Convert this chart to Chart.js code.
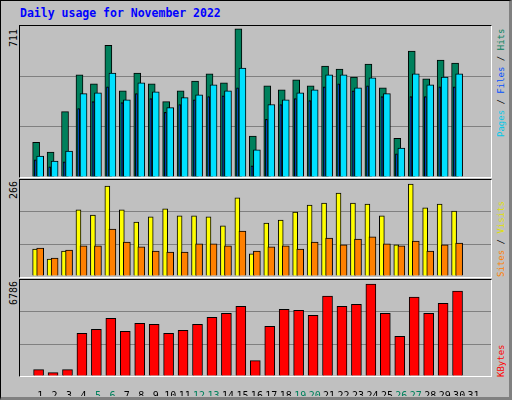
<!DOCTYPE html>
<html>
<head>
<meta charset="utf-8">
<script src="https://cdn.jsdelivr.net/npm/chart.js@4"></script>
<style>
  html, body { margin: 0; padding: 0; }
  body { width: 512px; height: 400px; position: relative; overflow: hidden; background: #fff; }
  #frame { position: absolute; left: 0; top: 0; width: 508px; height: 396px; background: #c0c0c0;
    border: 1px solid #000; border-right: 3px solid #808080; border-bottom: 3px solid #808080; box-sizing: content-box; }
  .panel { position: absolute; left: 19px; width: 471px; border-top: 1px solid #000; border-left: 1px solid #000;
    border-right: 1px solid #fff; border-bottom: 1px solid #fff; }
  canvas { position: absolute; }
  .t { position: absolute; font-family: "DejaVu Sans Mono", monospace; font-size: 9px; white-space: nowrap; line-height: 11px; }
  .rot { transform-origin: 0 0; transform: rotate(-90deg); }
</style>
</head>
<body>
<div id="frame"></div>
<div class="t" style="left:20px;top:8px;color:#0000ff;font-weight:bold;font-size:11.5px;">Daily usage for November 2022</div>
<div class="panel" style="top:25px;height:151px;"></div>
<div class="panel" style="top:179px;height:97px;"></div>
<div class="panel" style="top:279px;height:96px;"></div>
<canvas id="c1" width="471" height="151" style="left:20px;top:26px"></canvas>
<canvas id="c2" width="471" height="96" style="left:20px;top:180px"></canvas>
<canvas id="c3" width="471" height="116" style="left:20px;top:280px"></canvas>
<div class="t rot" style="left:8px;top:47px;color:#000;font-size:10px">711</div>
<div class="t rot" style="left:8px;top:199px;color:#000;font-size:10px">266</div>
<div class="t rot" style="left:8px;top:305px;color:#000;font-size:10px">6786</div>
<div class="t rot" style="left:496px;top:137px"><span style="color:#00c8e8">Pages</span> / <span style="color:#0050ff">Files</span> / <span style="color:#00805c">Hits</span></div>
<div class="t rot" style="left:496px;top:277px"><span style="color:#ff8000">Sites</span> / <span style="color:#e0e000">Visits</span></div>
<div class="t rot" style="left:496px;top:377px;color:#ff0000">KBytes</div>
<script>
const days = Array.from({ length: 31 }, (_, i) => i + 1);
const weekend = [5, 6, 12, 13, 19, 20, 26, 27];
const hits = [167,120,314,490,447,632,414,499,447,362,414,461,495,452,711,196,438,419,466,438,532,518,480,542,428,186,604,471,561,547];
const pages = [101,77,125,400,404,499,371,452,409,333,381,395,442,414,523,130,348,371,404,419,490,490,428,476,400,139,495,442,480,495];
const files = [82,49,73,329,362,433,357,400,376,310,348,371,386,390,428,54,277,348,376,367,433,447,414,438,386,111,386,386,433,433];
const visits = [78,49,72,191,176,260,191,156,171,194,174,174,171,145,226,64,153,162,185,205,211,240,211,208,174,90,266,197,208,188];
const sites = [81,52,75,87,87,136,98,84,72,69,69,93,93,87,130,72,84,87,78,98,110,90,107,113,93,87,101,72,90,95];
const kbytes = [471,248,471,3146,3443,4260,3294,3889,3815,3146,3369,3815,4335,4632,5152,1139,3666,4929,4855,4483,5895,5152,5301,6786,4632,2923,5821,4632,5375,6267];

const pts = (arr, off) => arr.map((v, i) => ({ x: days[i] + off, y: v }));
// first dataset in the list ends up drawn on top
const bar = (data, color, w) => ({ data, backgroundColor: color, borderColor: "#000", borderWidth: 1, barThickness: w, grouped: false, borderSkipped: "bottom" });

function makeChart(id, datasets, ymax, showX) {
  new Chart(document.getElementById(id), {
    type: "bar",
    data: { datasets },
    options: {
      responsive: false, animation: false, devicePixelRatio: 1,
      layout: { padding: 0 },
      plugins: { legend: { display: false }, tooltip: { enabled: false } },
      scales: {
        x: {
          type: "linear", min: 0.129, max: 31.68,
          grid: { display: false }, border: { display: false },
          afterFit: s => { s.height = showX ? 20 : 0; },
          afterBuildTicks: s => { s.ticks = days.map(d => ({ value: d })); },
          ticks: {
            display: showX, autoSkip: false, maxRotation: 0, padding: 6,
            font: { family: "DejaVu Sans Mono", size: 10 },
            color: c => weekend.includes(c.tick.value) ? "#00805c" : "#000"
          }
        },
        y: {
          min: 0, max: ymax, display: true,
          afterFit: s => { s.width = 0; },
          ticks: { display: false, stepSize: ymax / 3 },
          border: { display: false },
          grid: { drawTicks: false, color: c => (c.index === 1 || c.index === 2) ? "#808080" : "rgba(0,0,0,0)" }
        }
      }
    }
  });
}

makeChart("c1", [
  bar(pts(files, -0.34), "#0040ff", 2),
  bar(pts(pages, 0), "#00e0ff", 7),
  bar(pts(hits, -0.28), "#00805c", 7)
], 725, false);

makeChart("c2", [
  bar(pts(sites, 0), "#ff8000", 7),
  bar(pts(visits, -0.35), "#ffff00", 5)
], 277.6, false);

makeChart("c3", [
  bar(pts(kbytes, -0.11), "#ff0000", 10)
], 7090, true);
</script>
</body>
</html>
